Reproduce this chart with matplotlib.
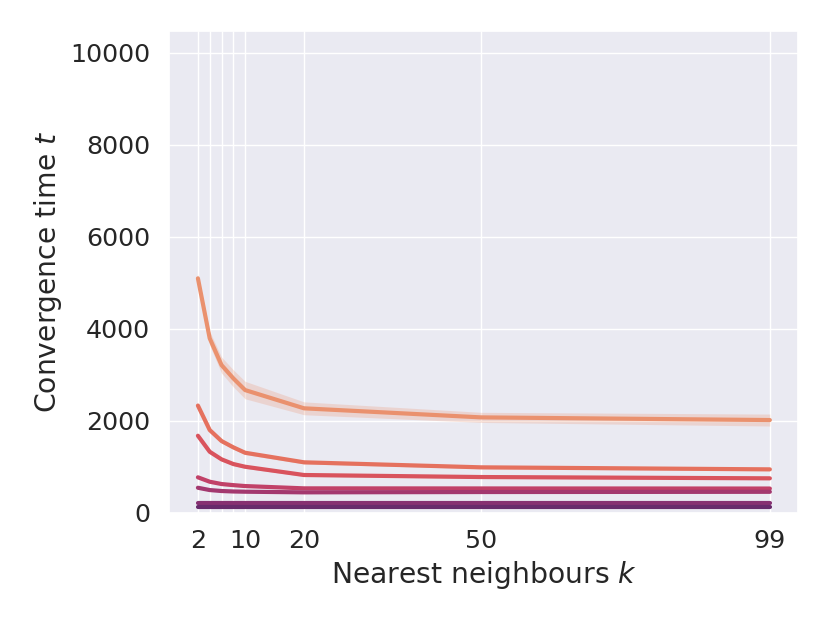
import matplotlib
matplotlib.use("Agg")
import matplotlib.pyplot as plt
import numpy as np
import seaborn as sns

sns.set_theme(style="darkgrid")
plt.rcParams['font.family'] = ['DejaVu Sans']

k_values = [2, 4, 6, 8, 10, 20, 50, 99]
xtick_labels = ['2', '', '', '', '10', '20', '50', '99']

series_1 = [5096, 3791, 3211, 2922, 2667, 2270, 2073, 2015]
series_2 = [2330, 1798, 1559, 1422, 1304, 1096, 987, 943]
series_3 = [1674, 1326, 1161, 1059, 1000, 820, 776, 748]
series_4 = [770, 674, 624, 600, 580, 530, 528, 526]
series_5 = [543, 493, 472, 462, 457, 443, 450, 455]
series_6 = [217, 217, 217, 217, 217, 217, 217, 217]
series_7 = [115, 115, 115, 115, 115, 115, 115, 115]

ci_1 = [100, 150, 175, 185, 190, 140, 110, 130]
ci_2 = [35, 40, 40, 40, 40, 35, 30, 30]
ci_3 = [30, 35, 35, 35, 35, 30, 28, 28]
ci_4 = [22, 22, 22, 22, 22, 22, 22, 22]
ci_5 = [18, 18, 18, 18, 18, 18, 18, 18]
ci_6 = [8, 8, 8, 8, 8, 8, 8, 8]
ci_7 = [6, 6, 6, 6, 6, 6, 6, 6]

all_series = [series_1, series_2, series_3, series_4, series_5, series_6, series_7]
all_ci = [ci_1, ci_2, ci_3, ci_4, ci_5, ci_6, ci_7]

colors = sns.color_palette("flare", 7)

fig = plt.figure(figsize=(8.3, 6.23), dpi=100)
ax = fig.add_axes([0.204, 0.177, 0.758, 0.773])

x = np.array(k_values)
for s, c, col in zip(all_series, all_ci, colors):
    s = np.array(s, dtype=float)
    c = np.array(c, dtype=float)
    ax.fill_between(x, s - c, s + c, color=col, alpha=0.25, linewidth=0)
    ax.plot(x, s, color=col, linewidth=3.0)

ax.set_xticks(k_values)
ax.set_xticklabels(xtick_labels)
ax.set_yticks([0, 2000, 4000, 6000, 8000, 10000])
ax.set_ylim(0, 10470)
ax.tick_params(axis='y', labelsize=18.3, pad=8)
ax.tick_params(axis='x', labelsize=18.3, pad=6)
ax.set_xlabel("Nearest neighbours $k$", fontsize=20.3)
ax.set_ylabel("Convergence time $t$", fontsize=20.3)

fig.savefig("out.png", dpi=100)
